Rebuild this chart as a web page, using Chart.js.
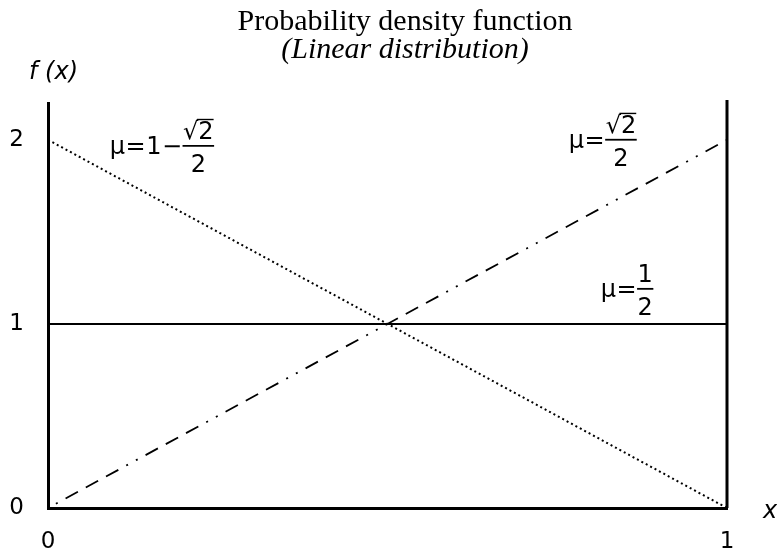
<!DOCTYPE html>
<html>
<head>
<meta charset="utf-8">
<title>Probability density function</title>
<script src="https://cdn.jsdelivr.net/npm/chart.js@4/dist/chart.umd.min.js"></script>
<style>
  html, body { margin: 0; padding: 0; background: #fff; }
  #wrap { width: 777px; height: 554px; }
</style>
</head>
<body>
<div id="wrap"><canvas id="pdf"></canvas></div>
<script>
// support of the distribution
const xValues = [0, 1];
// f(x) at the ends of each curve
const densityLow = [2, 0];   // μ = 1 − √2/2
const densityMid = [1, 1];   // μ = 1/2
const densityHigh = [0, 2];  // μ = √2/2
const xTicks = [0, 1];
const yTicks = [0, 1, 2];
const yMax = 2.2;

const SANS = "'DejaVu Sans', sans-serif";
const SERIF = "'Liberation Serif', 'Times New Roman', serif";

const toPoints = ys => xValues.map((x, i) => ({ x: x, y: ys[i] }));

// draws "μ = ... num/den" with a real fraction bar
function drawMu(ctx, x, base, tokens, num, den, root) {
  ctx.font = "24px " + SANS;
  ctx.textAlign = "left";
  ctx.textBaseline = "alphabetic";
  let cx = x;
  tokens.forEach(t => {
    ctx.fillText(t, cx, base);
    cx += ctx.measureText(t).width + 0.5;
  });
  const rootM = ctx.measureText("√");
  const rootW = root ? rootM.width : 0;
  const numW = rootW + ctx.measureText(num).width;
  const denW = ctx.measureText(den).width;
  const barW = Math.max(numW, denW) + 1;
  const barY = base - 8;
  ctx.lineWidth = 1.8;
  ctx.beginPath();
  ctx.moveTo(cx, barY);
  ctx.lineTo(cx + barW, barY);
  ctx.stroke();
  const numBase = barY - 7;
  let nx = cx + (barW - numW) / 2;
  if (root) {
    ctx.fillText("√", nx, numBase);
    const top = numBase - (rootM.actualBoundingBoxAscent || 20) + 0.7;
    nx += rootW;
    ctx.lineWidth = 1.4;
    ctx.beginPath();
    ctx.moveTo(nx - 1.5, top);
    ctx.lineTo(nx + ctx.measureText(num).width, top);
    ctx.stroke();
  }
  ctx.fillText(num, nx, numBase);
  ctx.fillText(den, cx + (barW - denW) / 2, barY + 26);
}

const textPlugin = {
  id: "pdfText",
  afterDatasetsDraw(chart) {
    const { ctx, chartArea } = chart;
    const xs = chart.scales.x, ys = chart.scales.y;
    ctx.save();
    ctx.strokeStyle = "#000";
    ctx.fillStyle = "#000";

    // right-hand border at x = 1
    ctx.lineWidth = 3;
    ctx.beginPath();
    ctx.moveTo(xs.getPixelForValue(1), chartArea.top - 3);
    ctx.lineTo(xs.getPixelForValue(1), chartArea.bottom);
    ctx.stroke();

    // title
    ctx.textAlign = "center";
    ctx.textBaseline = "alphabetic";
    ctx.font = "30px " + SERIF;
    ctx.fillText("Probability density function", 405, 30);
    ctx.font = "italic 30px " + SERIF;
    ctx.fillText("(Linear distribution)", 405, 58);

    // axis names
    ctx.textAlign = "left";
    ctx.font = "italic 24px " + SANS;
    ctx.fillText("f (x)", 29, 79);
    ctx.fillText("x", 763, 518);

    // curve labels
    drawMu(ctx, xs.getPixelForValue(0.091), ys.getPixelForValue(1.924), ["μ", "=", "1", "−"], "2", "2", true);
    drawMu(ctx, xs.getPixelForValue(0.767), ys.getPixelForValue(1.957), ["μ", "="], "2", "2", true);
    drawMu(ctx, xs.getPixelForValue(0.814), ys.getPixelForValue(1.147), ["μ", "="], "1", "2", false);
    ctx.restore();
  }
};

new Chart(document.getElementById("pdf"), {
  type: "line",
  data: {
    datasets: [
      { label: "μ = 1 − √2/2", data: toPoints(densityLow), borderColor: "#000", borderWidth: 2, borderDash: [2, 3], pointRadius: 0, fill: false },
      { label: "μ = 1/2", data: toPoints(densityMid), borderColor: "#000", borderWidth: 2, pointRadius: 0, fill: false },
      { label: "μ = √2/2", data: toPoints(densityHigh), borderColor: "#000", borderWidth: 1.8, borderDash: [14, 9, 14, 9, 14, 9, 2, 9, 2, 9], borderDashOffset: 71, pointRadius: 0, fill: false }
    ]
  },
  options: {
    responsive: true,
    maintainAspectRatio: false,
    animation: false,
    layout: { padding: { top: 103, right: 50, left: 0, bottom: 0 } },
    plugins: {
      legend: { display: false },
      tooltip: { enabled: false },
      title: { display: false }
    },
    scales: {
      x: {
        type: "linear",
        min: 0,
        max: 1,
        grid: { display: false, drawTicks: false },
        border: { display: true, color: "#000", width: 3 },
        afterBuildTicks: s => { s.ticks = xTicks.map(v => ({ value: v })); },
        afterFit: s => { s.height = 46; },
        ticks: { padding: 20, color: "#000", font: { family: SANS, size: 23 }, maxRotation: 0, autoSkip: false }
      },
      y: {
        min: 0,
        max: yMax,
        grid: { display: false, drawTicks: false },
        border: { display: true, color: "#000", width: 3 },
        afterBuildTicks: s => { s.ticks = yTicks.map(v => ({ value: v })); },
        afterFit: s => { s.width = 48; },
        ticks: { padding: 24, color: "#000", font: { family: SANS, size: 23 }, autoSkip: false }
      }
    }
  },
  plugins: [textPlugin]
});
</script>
</body>
</html>
